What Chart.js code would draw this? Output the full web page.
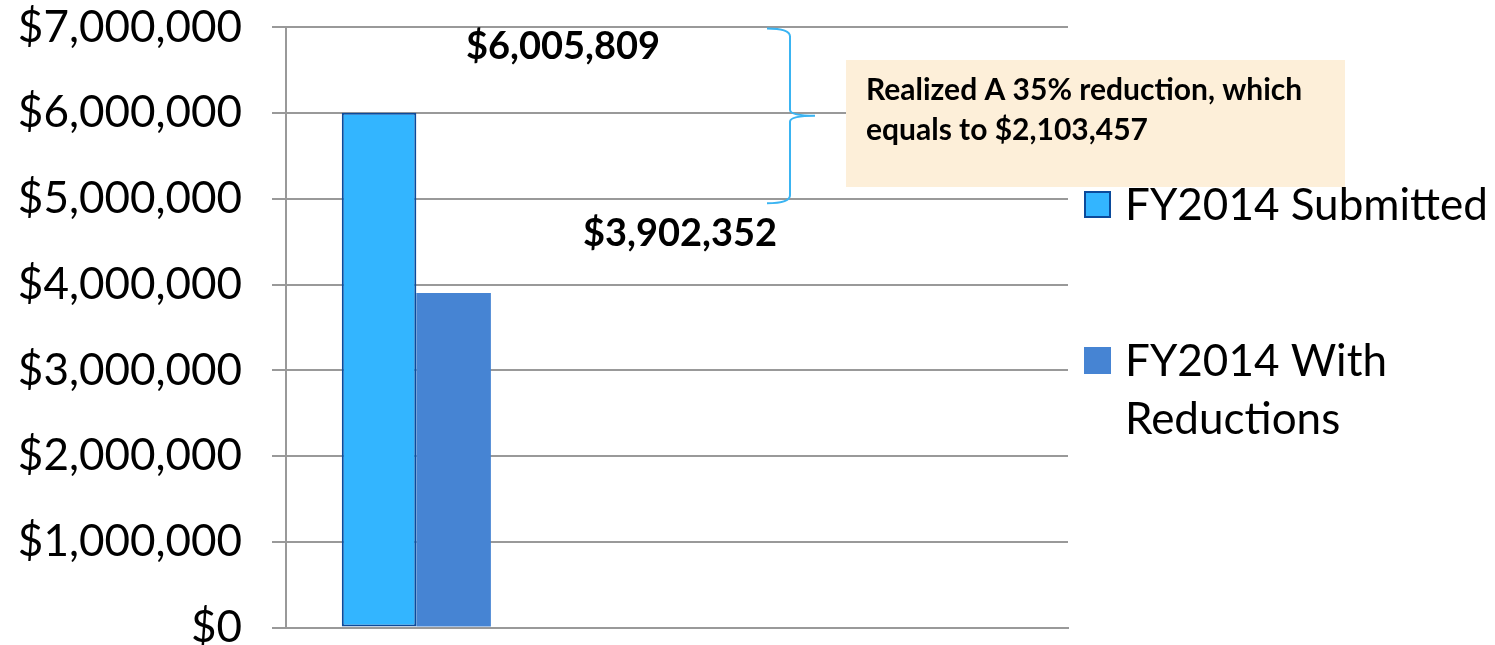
<!DOCTYPE html>
<html>
<head>
<meta charset="utf-8">
<script src="https://cdn.jsdelivr.net/npm/chart.js@4/dist/chart.umd.min.js"></script>
<style>
  html, body { margin: 0; padding: 0; background: #fff; overflow: hidden; }
  /* taller canvas pulled up, so the tick-label overhang falls outside the window */
  #wrap { width: 1495px; height: 713px; margin-top: -29px; }
</style>
</head>
<body>
<div id="wrap"><canvas id="chart"></canvas></div>
<script>
const categories = ["", "", ""];
const submitted = [6005809, null, null];
const withReductions = [3902352, null, null];
const seriesNames = ["FY2014 Submitted", ["FY2014 With", "Reductions"]];
const yTicks = [0, 1000000, 2000000, 3000000, 4000000, 5000000, 6000000, 7000000];
const savings = submitted[0] - withReductions[0];
const savingsPct = Math.round(savings / submitted[0] * 100);

const FONT = "Lato, 'Open Sans', sans-serif";
const OFFSET = 29;
const money = v => "$" + v.toLocaleString("en-US");

// value labels, the brace, the callout box and the legend
const annotations = {
    id: "annotations",
    afterDraw(chart) {
        const ctx = chart.ctx;
        const y = chart.scales.y;
        ctx.save();
        ctx.translate(0, OFFSET);
        ctx.fillStyle = "#000";
        ctx.textAlign = "center";
        ctx.textBaseline = "alphabetic";
        ctx.font = "bold 38px " + FONT;
        ctx.fillText(money(submitted[0]), 563, 59);
        ctx.fillText(money(withReductions[0]), 680, 246);

        // curly brace
        const top = y.getPixelForValue(7000000) - OFFSET + 1;
        const bot = y.getPixelForValue(4950000) - OFFSET;
        const mid = (top + bot) / 2;
        const x0 = 767, x1 = 790, tip = 815;
        ctx.strokeStyle = "#3AB4F2";
        ctx.lineWidth = 2;
        ctx.beginPath();
        ctx.moveTo(x0, top);
        ctx.quadraticCurveTo(x1, top, x1, top + 8);
        ctx.lineTo(x1, mid - 6);
        ctx.quadraticCurveTo(x1, mid, tip, mid);
        ctx.quadraticCurveTo(x1, mid, x1, mid + 6);
        ctx.lineTo(x1, bot - 8);
        ctx.quadraticCurveTo(x1, bot, x0, bot);
        ctx.stroke();

        // callout
        ctx.fillStyle = "#FDEFD9";
        ctx.fillRect(846, 60, 499, 127);
        ctx.fillStyle = "#000";
        ctx.textAlign = "left";
        ctx.font = "bold 30px " + FONT;
        ctx.fillText("Realized A " + savingsPct + "% reduction, which", 866, 100);
        ctx.fillText("equals to " + money(savings), 866, 140);

        // legend
        const items = [
            { fill: "#33B5FF", border: "#0B4A9B", y: 191, lines: [seriesNames[0]] },
            { fill: "#4684D3", border: null, y: 347, lines: seriesNames[1] }
        ];
        ctx.font = "44px " + FONT;
        items.forEach(it => {
            ctx.fillStyle = it.fill;
            ctx.fillRect(1084, it.y, 27, 27);
            if (it.border) {
                ctx.strokeStyle = it.border;
                ctx.lineWidth = 2;
                ctx.strokeRect(1085, it.y + 1, 25, 25);
            }
            ctx.fillStyle = "#000";
            it.lines.forEach((t, i) => ctx.fillText(t, 1125, it.y + 29 + i * 58));
        });
        ctx.restore();
    }
};

new Chart(document.getElementById("chart"), {
    type: "bar",
    data: {
        labels: categories,
        datasets: [
            {
                label: "FY2014 Submitted",
                data: submitted,
                backgroundColor: "#33B5FF",
                borderColor: "#0B4A9B",
                borderWidth: 2,
                borderSkipped: false
            },
            {
                label: "FY2014 With Reductions",
                data: withReductions,
                backgroundColor: "#4684D3",
                borderWidth: 0
            }
        ]
    },
    options: {
        responsive: true,
        maintainAspectRatio: false,
        animation: false,
        datasets: { bar: { categoryPercentage: 0.572, barPercentage: 1.0 } },
        layout: { padding: { top: 0, right: 427, bottom: 0, left: 0 } },
        plugins: {
            legend: { display: false },
            tooltip: { enabled: false }
        },
        scales: {
            x: {
                afterFit(scale) { scale.height = 0; },
                grid: { display: false },
                border: { display: true, color: "#999", width: 2 },
                ticks: { display: false }
            },
            y: {
                min: 0,
                max: 7000000,
                afterFit(scale) { scale.width = 286; },
                afterBuildTicks(scale) { scale.ticks = yTicks.map(v => ({ value: v })); },
                grid: { color: "#999", lineWidth: 2, tickLength: 14 },
                border: { display: true, color: "#999", width: 2 },
                ticks: {
                    color: "#000",
                    padding: 30,
                    font: { family: FONT, size: 44 },
                    callback: v => money(v)
                }
            }
        }
    },
    plugins: [annotations]
});
</script>
</body>
</html>
